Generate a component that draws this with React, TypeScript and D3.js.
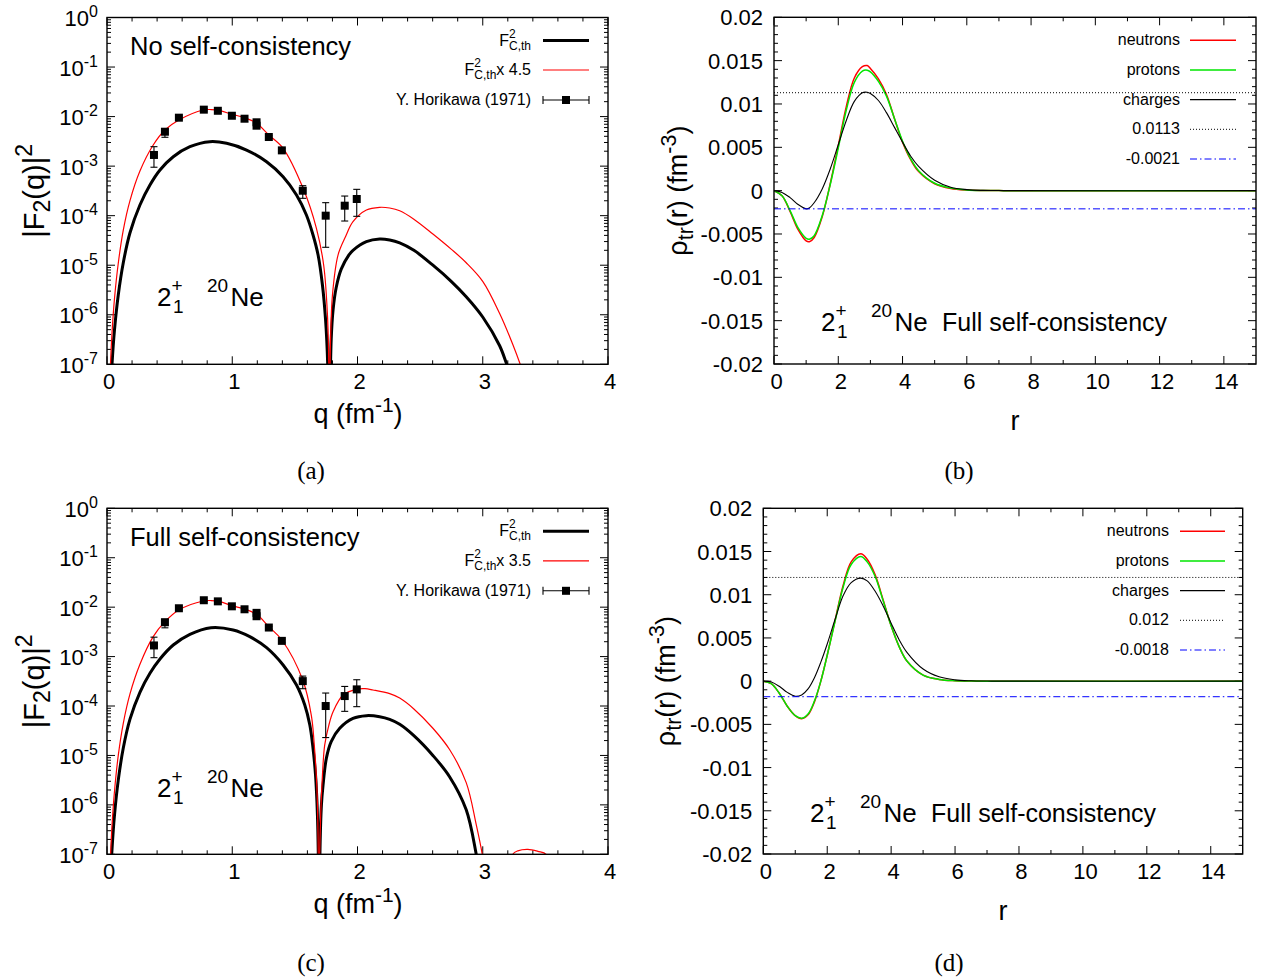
import React from "react";
import * as d3 from "d3";

const SANS = '"Liberation Sans", Arial, Helvetica, sans-serif';
const SERIF = '"Liberation Serif", "DejaVu Serif", serif';

// ---------- Panel (a): No self-consistency, |F2(q)|^2 (log10 values) ----------
const qBlackA = [0.015, 0.028, 0.04, 0.06, 0.09, 0.13, 0.183, 0.263, 0.343, 0.423, 0.529, 0.662, 0.821, 0.955, 1.114, 1.274, 1.406, 1.513, 1.592, 1.645, 1.685, 1.72, 1.745, 1.762, 1.776, 1.782, 1.79, 1.805, 1.83, 1.87, 1.932, 1.964, 2.071, 2.177, 2.257, 2.337, 2.45, 2.602, 2.75, 2.868, 3.001, 3.134, 3.192, 3.25];
const logBlackA = [-9, -7.65, -7.0, -6.3, -5.6, -4.95, -4.35, -3.785, -3.381, -3.078, -2.81, -2.608, -2.507, -2.539, -2.675, -2.911, -3.214, -3.583, -3.987, -4.39, -4.79, -5.4, -6.1, -7.0, -10, -7.5, -6.5, -5.9, -5.45, -5.08, -4.79, -4.7, -4.525, -4.471, -4.491, -4.55, -4.7, -5.0, -5.33, -5.636, -6.05, -6.62, -7.0, -7.4];
const qRedA = [0.015, 0.028, 0.04, 0.06, 0.09, 0.13, 0.183, 0.263, 0.369, 0.4625, 0.574, 0.768, 0.83, 0.901, 0.997, 1.098, 1.194, 1.292, 1.406, 1.566, 1.672, 1.73, 1.76, 1.772, 1.776, 1.779, 1.785, 1.8, 1.845, 1.905, 1.964, 2.071, 2.177, 2.257, 2.337, 2.45, 2.602, 2.75, 2.868, 3.001, 3.134, 3.24, 3.299, 3.35];
const logRedA = [-8.1, -6.99, -6.37, -5.67, -4.96, -4.29, -3.7, -3.099, -2.574, -2.271, -2.069, -1.867, -1.858, -1.881, -1.954, -2.022, -2.136, -2.372, -2.64, -3.448, -4.255, -5.0, -6.0, -7.2, -10, -7.5, -6.5, -5.6, -4.79, -4.42, -4.122, -3.886, -3.831, -3.845, -3.9, -4.07, -4.37, -4.68, -4.95, -5.33, -5.97, -6.6, -7.0, -7.4];

// ---------- Panel (c): Full self-consistency ----------
const qBlackC = [0.015, 0.028, 0.04, 0.06, 0.09, 0.13, 0.183, 0.263, 0.343, 0.423, 0.529, 0.662, 0.83, 1.007, 1.14, 1.274, 1.406, 1.513, 1.579, 1.619, 1.642, 1.665, 1.68, 1.688, 1.693, 1.7, 1.712, 1.725, 1.752, 1.79, 1.858, 1.964, 2.071, 2.177, 2.257, 2.337, 2.45, 2.602, 2.735, 2.868, 2.948, 3.0, 3.05];
const logBlackC = [-9, -7.55, -6.9, -6.2, -5.5, -4.85, -4.27, -3.722, -3.338, -3.049, -2.766, -2.55, -2.416, -2.462, -2.597, -2.82, -3.17, -3.575, -3.98, -4.38, -4.79, -5.4, -6.2, -7.2, -10, -7.0, -6.0, -5.6, -5.05, -4.72, -4.45, -4.25, -4.195, -4.216, -4.27, -4.37, -4.6, -5.0, -5.43, -6.1, -7.0, -7.8, -10];
const qRedC = [0.015, 0.028, 0.04, 0.06, 0.09, 0.13, 0.183, 0.263, 0.369, 0.4625, 0.574, 0.768, 0.83, 0.901, 0.997, 1.098, 1.194, 1.292, 1.396, 1.563, 1.632, 1.655, 1.675, 1.685, 1.691, 1.695, 1.705, 1.72, 1.738, 1.77, 1.805, 1.885, 1.991, 2.06, 2.124, 2.257, 2.337, 2.45, 2.602, 2.735, 2.868, 2.948, 2.996, 3.04, 3.1, 3.2, 3.24, 3.28, 3.36, 3.44, 3.506, 3.55, 3.6];
const logRedC = [-8.1, -7.05, -6.42, -5.72, -5.0, -4.35, -3.76, -3.156, -2.597, -2.294, -2.057, -1.875, -1.866, -1.889, -1.97, -2.037, -2.145, -2.395, -2.664, -3.474, -4.2, -4.79, -5.6, -6.6, -10, -7.5, -6.3, -5.4, -4.79, -4.4, -4.115, -3.777, -3.662, -3.65, -3.676, -3.75, -3.84, -4.06, -4.45, -4.88, -5.55, -6.4, -7.0, -7.8, -10, -7.6, -7.0, -6.93, -6.9, -6.94, -7.0, -7.6, -9];

// ---------- Experimental data: Y. Horikawa (1971) ----------
const qExp = [0.375, 0.4625, 0.574, 0.773, 0.885, 0.997, 1.098, 1.194, 1.194, 1.292, 1.396, 1.563, 1.746, 1.898, 1.994];
const fExp = [1.68e-3, 4.95e-3, 9.5e-3, 1.38e-2, 1.31e-2, 1.04e-2, 9.06e-3, 7.67e-3, 6.55e-3, 3.87e-3, 2.08e-3, 3.19e-4, 1.0e-4, 1.59e-4, 2.17e-4];
const fExpLo = [9.5e-4, 3.82e-3, 8.8e-3, 1.3e-2, 1.24e-2, 9.8e-3, 8.5e-3, 7.2e-3, 6.1e-3, 3.6e-3, 1.9e-3, 2.24e-4, 2.3e-5, 7.8e-5, 9.7e-5];
const fExpHi = [2.47e-3, 5.69e-3, 1.02e-2, 1.46e-2, 1.38e-2, 1.1e-2, 9.6e-3, 8.4e-3, 7.0e-3, 4.1e-3, 2.25e-3, 4.03e-4, 1.83e-4, 2.49e-4, 3.4e-4];

// ---------- Panel (b): transition densities ----------
const rB = [0, 0.25, 0.5, 0.75, 1.0, 1.1, 1.25, 1.5, 1.75, 2.0, 2.25, 2.5, 2.75, 2.9, 3.0, 3.25, 3.5, 3.75, 4.0, 4.25, 4.5, 5.0, 5.5, 6.0, 6.5, 7.0, 7.5, 15];
const neutronsB = [0, -0.0006, -0.0024, -0.0045, -0.0058, -0.0059, -0.0054, -0.003, 0.0008, 0.0052, 0.0097, 0.013, 0.0143, 0.01443, 0.0141, 0.0129, 0.0111, 0.0083, 0.0056, 0.0036, 0.0022, 0.0008, 0.00025, 0.00007, 0.00002, 0.000005, 0, 0];
const protonsB = [0, -0.0006, -0.0023, -0.0043, -0.0055, -0.0056, -0.0052, -0.0029, 0.0007, 0.0049, 0.0093, 0.0125, 0.0138, 0.0139, 0.0137, 0.0126, 0.0109, 0.0083, 0.0057, 0.0037, 0.0023, 0.00085, 0.0003, 0.00008, 0.00002, 0.000005, 0, 0];
const chargesB = [0, -0.0002, -0.0008, -0.0016, -0.0021, -0.002, -0.0014, 0.0002, 0.0025, 0.0053, 0.0081, 0.0103, 0.0113, 0.01135, 0.0112, 0.0104, 0.009, 0.0073, 0.0056, 0.004, 0.0028, 0.0012, 0.0004, 0.00012, 0.00003, 0.00001, 0, 0];
const refHiB = 0.0113;
const refLoB = -0.0021;

// ---------- Panel (d) ----------
const rD = [0, 0.25, 0.5, 0.75, 1.0, 1.2, 1.4, 1.6, 1.8, 2.0, 2.25, 2.5, 2.75, 3.05, 3.25, 3.5, 3.75, 4.0, 4.25, 4.5, 5.0, 5.5, 6.0, 6.5, 7.0, 7.5, 15];
const neutronsD = [0, -0.0003, -0.0014, -0.0029, -0.004, -0.00435, -0.0039, -0.0024, 0.0, 0.003, 0.0071, 0.0111, 0.0138, 0.01473, 0.0141, 0.0123, 0.0094, 0.0064, 0.004, 0.0023, 0.0007, 0.0002, 0.00005, 0.00001, 0, 0, 0];
const protonsD = [0, -0.0003, -0.0014, -0.0029, -0.004, -0.0043, -0.0038, -0.0023, 0.0, 0.003, 0.007, 0.0109, 0.0135, 0.01442, 0.0138, 0.0121, 0.0093, 0.0064, 0.004, 0.0023, 0.0007, 0.0002, 0.00005, 0.00001, 0, 0, 0];
const chargesD = [0, -0.0001, -0.0006, -0.0013, -0.00175, -0.0016, -0.0009, 0.0004, 0.0022, 0.0043, 0.0072, 0.0099, 0.0114, 0.01192, 0.0116, 0.0104, 0.0087, 0.0067, 0.0048, 0.0033, 0.0014, 0.0005, 0.00015, 0.00004, 0.00001, 0, 0];
const refHiD = 0.012;
const refLoD = -0.0018;

// ---------- Axis ticks ----------
const qTicks = [0, 1, 2, 3, 4];
const logExponents = [0, -1, -2, -3, -4, -5, -6, -7];
const rTicks = [0, 2, 4, 6, 8, 10, 12, 14];
const rhoTicks = [0.02, 0.015, 0.01, 0.005, 0, -0.005, -0.01, -0.015, -0.02];

const MAJ = 8;
const MIN = 4;
const CURVE = d3.curveCatmullRom.alpha(0.5);

function Nucleus({ x, y, big = 26, small = 19 }: { x: number; y: number; big?: number; small?: number }) {
  return (
    <g fontFamily={SANS}>
      <text x={x} y={y} fontSize={big}>2</text>
      <text x={x + 14.5} y={y - 14} fontSize={small}>+</text>
      <text x={x + 16} y={y + 7} fontSize={small}>1</text>
      <text x={x + 50} y={y - 14} fontSize={small}>20</text>
      <text x={x + 73.5} y={y} fontSize={big}>Ne</text>
    </g>
  );
}

function LogPanel(props: {
  L: number; R: number; T: number; B: number; id: string;
  qBlack: number[]; logBlack: number[]; qRed: number[]; logRed: number[];
  title: string; factor: string; yLabelX: number; xLabelY: number;
}) {
  const { L, R, T, B, id, qBlack, logBlack, qRed, logRed, title, factor } = props;
  const x = d3.scaleLinear().domain([0, 4]).range([L, R]);
  const y = d3.scaleLog().domain([1e-7, 1]).range([B, T]);
  const line = d3.line<number[]>().x((d) => x(d[0])).y((d) => y(d[1])).curve(CURVE);
  const blackPath = line(qBlack.map((q, i) => [q, Math.pow(10, logBlack[i])])) || "";
  const redPath = line(qRed.map((q, i) => [q, Math.pow(10, logRed[i])])) || "";
  const minX = d3.range(0, 4.0001, 0.2).filter((v) => Math.abs(v - Math.round(v)) > 1e-6);
  const minY: number[] = [];
  for (let e = -7; e < 0; e++) for (let m = 2; m <= 9; m++) minY.push(m * Math.pow(10, e));
  const legR = 531;
  const lx0 = 543, lx1 = 589;
  const rows = [T + 23, T + 52.5, T + 82.5];
  const midY = (T + B) / 2;
  return (
    <g>
      <defs>
        <clipPath id={id}>
          <rect x={L} y={T} width={R - L} height={B - T} />
        </clipPath>
      </defs>
      <g stroke="#000" strokeWidth={1}>
        {qTicks.map((v) => (
          <g key={"mx" + v}>
            <line x1={x(v)} x2={x(v)} y1={B} y2={B - MAJ} />
            <line x1={x(v)} x2={x(v)} y1={T} y2={T + MAJ} />
          </g>
        ))}
        {minX.map((v) => (
          <g key={"nx" + v}>
            <line x1={x(v)} x2={x(v)} y1={B} y2={B - MIN} />
            <line x1={x(v)} x2={x(v)} y1={T} y2={T + MIN} />
          </g>
        ))}
        {logExponents.map((e) => (
          <g key={"my" + e}>
            <line x1={L} x2={L + MAJ} y1={y(Math.pow(10, e))} y2={y(Math.pow(10, e))} />
            <line x1={R} x2={R - MAJ} y1={y(Math.pow(10, e))} y2={y(Math.pow(10, e))} />
          </g>
        ))}
        {minY.map((v, i) => (
          <g key={"ny" + i}>
            <line x1={L} x2={L + MIN} y1={y(v)} y2={y(v)} />
            <line x1={R} x2={R - MIN} y1={y(v)} y2={y(v)} />
          </g>
        ))}
      </g>
      <g fontFamily={SANS} fontSize={22} fill="#000">
        {qTicks.map((v) => (
          <text key={"lx" + v} x={x(v) + 2} y={B + 25} textAnchor="middle">{v}</text>
        ))}
        {logExponents.map((e) => (
          <text key={"ly" + e} x={L - 9} y={y(Math.pow(10, e)) + 8.5} textAnchor="end">
            10<tspan fontSize={16} dy={-9}>{e}</tspan>
          </text>
        ))}
      </g>
      <g clipPath={`url(#${id})`} fill="none">
        <path d={blackPath} stroke="#000" strokeWidth={3} />
        <path d={redPath} stroke="#ff0000" strokeWidth={1.2} />
      </g>
      <g stroke="#000" strokeWidth={1.1}>
        {qExp.map((q, i) => {
          const cx = x(q);
          const y0 = y(fExpLo[i]);
          const y1 = y(fExpHi[i]);
          return (
            <g key={"e" + i}>
              <line x1={cx} x2={cx} y1={y0} y2={y1} />
              <line x1={cx - 3.5} x2={cx + 3.5} y1={y0} y2={y0} />
              <line x1={cx - 3.5} x2={cx + 3.5} y1={y1} y2={y1} />
              <rect x={cx - 4} y={y(fExp[i]) - 4} width={8} height={8} fill="#000" stroke="none" />
            </g>
          );
        })}
      </g>
      <rect x={L} y={T} width={R - L} height={B - T} fill="none" stroke="#000" strokeWidth={1.4} />
      <text x={L + 23} y={T + 37.5} fontFamily={SANS} fontSize={25.5}>{title}</text>
      <g fontFamily={SANS} fontSize={16}>
        <text x={legR} y={rows[0] + 5} textAnchor="end">
          F<tspan fontSize={12} dy={-8}>2</tspan>
          <tspan fontSize={12} dx={-6.7} dy={12}>C,th</tspan>
        </text>
        <line x1={lx0} x2={lx1} y1={rows[0]} y2={rows[0]} stroke="#000" strokeWidth={3} />
        <text x={legR} y={rows[1] + 5} textAnchor="end">
          F<tspan fontSize={12} dy={-8}>2</tspan>
          <tspan fontSize={12} dx={-6.7} dy={12}>C,th</tspan>
          <tspan fontSize={16} dy={-4}>{"x " + factor}</tspan>
        </text>
        <line x1={lx0} x2={lx1} y1={rows[1]} y2={rows[1]} stroke="#ff0000" strokeWidth={1.2} />
        <text x={legR} y={rows[2] + 5} textAnchor="end">Y. Horikawa (1971)</text>
        <g stroke="#000" strokeWidth={1.1}>
          <line x1={lx0} x2={lx1} y1={rows[2]} y2={rows[2]} />
          <line x1={lx0} x2={lx0} y1={rows[2] - 4} y2={rows[2] + 4} />
          <line x1={lx1} x2={lx1} y1={rows[2] - 4} y2={rows[2] + 4} />
        </g>
        <rect x={(lx0 + lx1) / 2 - 4} y={rows[2] - 4} width={8} height={8} fill="#000" />
      </g>
      <Nucleus x={L + 50} y={T + 288.5} />
      <text transform={`translate(${props.yLabelX},${midY}) rotate(-90)`} textAnchor="middle" fontFamily={SANS} fontSize={29}>
        |F<tspan fontSize={23} dy={6}>2</tspan>
        <tspan dy={-6}>(q)|</tspan>
        <tspan fontSize={23} dy={-12}>2</tspan>
      </text>
      <text x={(L + R) / 2 + 0.5} y={props.xLabelY} textAnchor="middle" fontFamily={SANS} fontSize={27}>
        q (fm<tspan fontSize={21} dy={-11}>-1</tspan>
        <tspan dy={11}>)</tspan>
      </text>
    </g>
  );
}

function DensityPanel(props: {
  L: number; R: number; T: number; B: number; id: string;
  r: number[]; neutrons: number[]; protons: number[]; charges: number[];
  refHi: number; refLo: number; legendRight: number; lineX0: number; lineX1: number;
  annotX: number; annotY: number; yLabelX: number; xLabelX: number; xLabelY: number;
}) {
  const { L, R, T, B, id, r, neutrons, protons, charges, refHi, refLo } = props;
  const x = d3.scaleLinear().domain([0, 15]).range([L, R]);
  const y = d3.scaleLinear().domain([-0.02, 0.02]).range([B, T]);
  const line = d3.line<number[]>().x((d) => x(d[0])).y((d) => y(d[1])).curve(CURVE);
  const mk = (vals: number[]) => line(r.map((rv, i) => [rv, vals[i]])) || "";
  const minX = d3.range(1, 15, 2);
  const minY = d3.range(-0.02, 0.02001, 0.001).filter((v) => Math.abs(v / 0.005 - Math.round(v / 0.005)) > 1e-6);
  const rows = [T + 23, T + 52.7, T + 82.3, T + 112, T + 141.7];
  const lr = props.legendRight;
  const midY = (T + B) / 2;
  return (
    <g>
      <defs>
        <clipPath id={id}>
          <rect x={L} y={T} width={R - L} height={B - T} />
        </clipPath>
      </defs>
      <g stroke="#000" strokeWidth={1}>
        {rTicks.map((v) => (
          <g key={"mx" + v}>
            <line x1={x(v)} x2={x(v)} y1={B} y2={B - MAJ} />
            <line x1={x(v)} x2={x(v)} y1={T} y2={T + MAJ} />
          </g>
        ))}
        {minX.map((v) => (
          <g key={"nx" + v}>
            <line x1={x(v)} x2={x(v)} y1={B} y2={B - MIN} />
            <line x1={x(v)} x2={x(v)} y1={T} y2={T + MIN} />
          </g>
        ))}
        {rhoTicks.map((v) => (
          <g key={"my" + v}>
            <line x1={L} x2={L + MAJ} y1={y(v)} y2={y(v)} />
            <line x1={R} x2={R - MAJ} y1={y(v)} y2={y(v)} />
          </g>
        ))}
        {minY.map((v, i) => (
          <g key={"ny" + i}>
            <line x1={L} x2={L + MIN} y1={y(v)} y2={y(v)} />
            <line x1={R} x2={R - MIN} y1={y(v)} y2={y(v)} />
          </g>
        ))}
      </g>
      <g fontFamily={SANS} fontSize={22}>
        {rTicks.map((v) => (
          <text key={"lx" + v} x={x(v) + 2.5} y={B + 25} textAnchor="middle">{v}</text>
        ))}
        {rhoTicks.map((v) => (
          <text key={"ly" + v} x={L - 11} y={y(v) + 8} textAnchor="end">{String(+v.toFixed(3))}</text>
        ))}
      </g>
      <g clipPath={`url(#${id})`} fill="none">
        <path d={mk(neutrons)} stroke="#ff0000" strokeWidth={1.5} />
        <path d={mk(protons)} stroke="#00e600" strokeWidth={1.5} />
        <path d={mk(charges)} stroke="#000" strokeWidth={1.1} />
        <line x1={L} x2={R} y1={y(refHi)} y2={y(refHi)} stroke="#000" strokeWidth={1} strokeDasharray="1,2" />
        <line x1={L} x2={R} y1={y(refLo)} y2={y(refLo)} stroke="#0000ff" strokeWidth={1} strokeDasharray="7,3,1.5,3" />
      </g>
      <rect x={L} y={T} width={R - L} height={B - T} fill="none" stroke="#000" strokeWidth={1.4} />
      <g fontFamily={SANS} fontSize={16} textAnchor="end">
        <text x={lr} y={rows[0] + 5}>neutrons</text>
        <text x={lr} y={rows[1] + 5}>protons</text>
        <text x={lr} y={rows[2] + 5}>charges</text>
        <text x={lr} y={rows[3] + 5}>{String(refHi)}</text>
        <text x={lr} y={rows[4] + 5}>{String(refLo)}</text>
      </g>
      <line x1={props.lineX0} x2={props.lineX1} y1={rows[0]} y2={rows[0]} stroke="#ff0000" strokeWidth={1.5} />
      <line x1={props.lineX0} x2={props.lineX1} y1={rows[1]} y2={rows[1]} stroke="#00e600" strokeWidth={1.5} />
      <line x1={props.lineX0} x2={props.lineX1} y1={rows[2]} y2={rows[2]} stroke="#000" strokeWidth={1.1} />
      <line x1={props.lineX0} x2={props.lineX1} y1={rows[3]} y2={rows[3]} stroke="#000" strokeWidth={1} strokeDasharray="1,2" />
      <line x1={props.lineX0} x2={props.lineX1} y1={rows[4]} y2={rows[4]} stroke="#0000ff" strokeWidth={1} strokeDasharray="7,3,1.5,3" />
      <Nucleus x={props.annotX} y={props.annotY} />
      <text x={props.annotX + 121} y={props.annotY} fontFamily={SANS} fontSize={25}>Full self-consistency</text>
      <text transform={`translate(${props.yLabelX},${midY}) rotate(-90)`} textAnchor="middle" fontFamily={SANS} fontSize={27}>
        ρ<tspan fontSize={21.5} dy={6}>tr</tspan>
        <tspan dy={-6}>(r)  (fm</tspan>
        <tspan fontSize={21.5} dy={-11}>-3</tspan>
        <tspan dy={11}>)</tspan>
      </text>
      <text x={props.xLabelX} y={props.xLabelY} textAnchor="middle" fontFamily={SANS} fontSize={27}>r</text>
    </g>
  );
}

export default function App() {
  return (
    <div style={{ position: "absolute", left: 0, top: 0 }}>
      <svg width={1266} height={980} viewBox="0 0 1266 980" style={{ display: "block", background: "#fff" }}>
        <rect x={0} y={0} width={1266} height={980} fill="#fff" />
        <LogPanel L={107} R={608} T={17.5} B={364.3} id="clipA" qBlack={qBlackA} logBlack={logBlackA} qRed={qRedA} logRed={logRedA}
          title="No self-consistency" factor="4.5" yLabelX={44} xLabelY={423} />
        <LogPanel L={107} R={608} T={508.3} B={854.3} id="clipC" qBlack={qBlackC} logBlack={logBlackC} qRed={qRedC} logRed={logRedC}
          title="Full self-consistency" factor="3.5" yLabelX={44} xLabelY={913} />
        <DensityPanel L={774} R={1256} T={17.3} B={364} id="clipB" r={rB} neutrons={neutronsB} protons={protonsB} charges={chargesB}
          refHi={refHiB} refLo={refLoB} legendRight={1180} lineX0={1190} lineX1={1236}
          annotX={821} annotY={331} yLabelX={687} xLabelX={1015} xLabelY={430} />
        <DensityPanel L={763.3} R={1242.7} T={508.3} B={854} id="clipD" r={rD} neutrons={neutronsD} protons={protonsD} charges={chargesD}
          refHi={refHiD} refLo={refLoD} legendRight={1169} lineX0={1180} lineX1={1225}
          annotX={810} annotY={821.5} yLabelX={675} xLabelX={1003} xLabelY={920} />
        <g fontFamily={SERIF} fontSize={25} textAnchor="middle">
          <text x={311} y={479}>(a)</text>
          <text x={959} y={479}>(b)</text>
          <text x={311} y={971}>(c)</text>
          <text x={949} y={971}>(d)</text>
        </g>
      </svg>
    </div>
  );
}
